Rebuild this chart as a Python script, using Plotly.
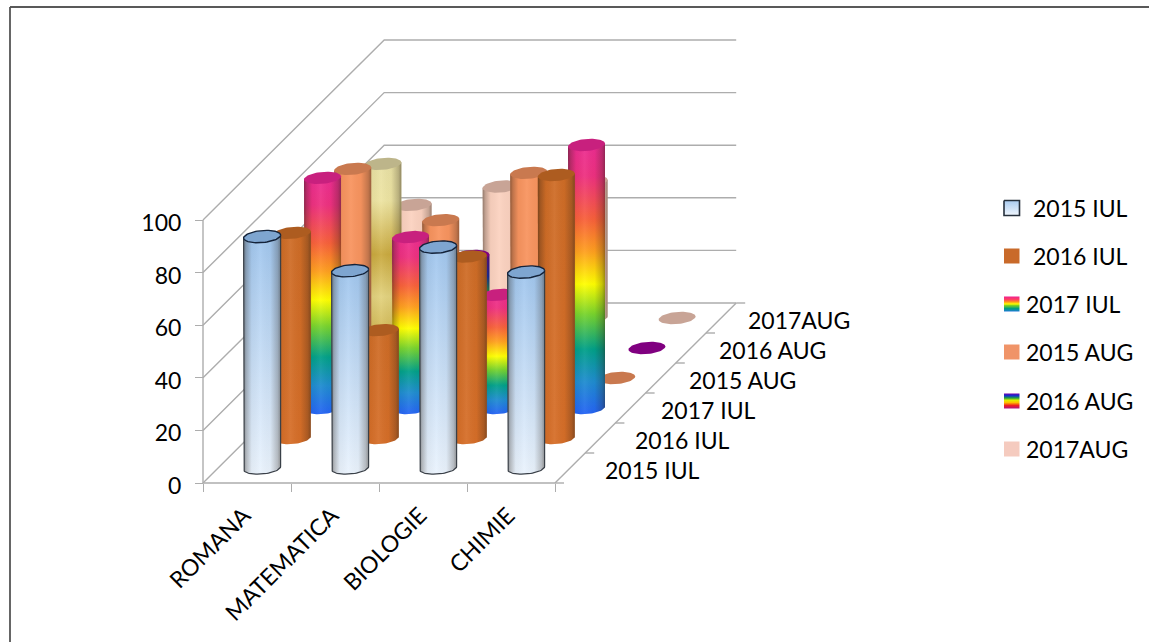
import numpy as np
import plotly.graph_objects as go

categories = ["ROMANA", "MATEMATICA", "BIOLOGIE", "CHIMIE"]
series_names = ["2015 IUL", "2016 IUL", "2017 IUL", "2015 AUG", "2016 AUG", "2017AUG"]
iul_2015 = [88, 75, 84, 74.5]
iul_2016 = [78, 41, 69, 100]
iul_2017 = [87.5, 65, 43, 100]
aug_2015 = [79.5, 60, 78, 0]
aug_2016 = [70, 35, 60, 0]
aug_2017 = [43, 50, 52, 0]
value_ticks = [0, 20, 40, 60, 80, 100]
series_values = [iul_2015, iul_2016, iul_2017, aug_2015, aug_2016, aug_2017]

W, H = 1149, 642
X0, Y0 = 203, 483      # pixel of the chart origin
PX_CAT, PX_VAL = 88.0, 2.63
DX, DY = 30.2, 30.0    # pixel shift per depth step
RX, RY = 18.5, 6.0
TILT = 1.5


def px(x, y):
    return (x - X0) / PX_CAT, (Y0 - y) / PX_VAL


def proj(cat, val, depth):
    """Oblique projection into axis units (cat, value)."""
    return cat + depth * DX / PX_CAT, val + depth * DY / PX_VAL


RAINBOW = [[0, "#2463F5"], [0.12, "#1E8CD0"], [0.24, "#00A088"], [0.37, "#78D42C"],
           [0.48, "#FFFF00"], [0.60, "#FFA01E"], [0.72, "#F8603A"], [0.88, "#EE3080"], [1, "#EC2C92"]]
RAINBOW2 = [[0, "#B01080"], [0.15, "#F01818"], [0.3, "#FF9020"], [0.45, "#FFFF00"],
            [0.6, "#30C040"], [0.78, "#1030D0"], [1, "#7000A8"]]
GOLD = [[0, "#C8A93C"], [0.3, "#E2D27E"], [0.52, "#C9A93E"], [0.8, "#EDE4A2"], [1, "#E8E0A4"]]
STYLE = [
    dict(body=[[0, "#EAF3FD"], [1, "#A0C6EE"]], cap="#7EA5D0", line="#14233A"),
    dict(body=[[0, "#D66E28"], [1, "#CE6C26"]], cap="#AD5C20", line=None),
    dict(body=RAINBOW, cap="#C8207E", line=None),
    dict(body=[[0, "#F8945F"], [1, "#F8945F"]], cap="#C9794F", line=None),
    dict(body=RAINBOW2, cap="#800080", line=None),
    dict(body=[[0, "#FBD2C0"], [1, "#FBD2C0"]], cap="#C8A496", line=None),
]
SHADE = [[0, "rgba(40,30,20,0.50)"], [0.07, "rgba(40,30,20,0.28)"], [0.22, "rgba(40,30,20,0.04)"],
         [0.45, "rgba(255,255,255,0.06)"], [0.72, "rgba(40,30,20,0.03)"], [0.92, "rgba(40,30,20,0.26)"],
         [1, "rgba(40,30,20,0.46)"]]

fig = go.Figure()
GRID = "#ADADAD"


def line(xs, ys, color=GRID, width=1.4):
    fig.add_trace(go.Scatter(x=xs, y=ys, mode="lines", line=dict(color=color, width=width),
                             hoverinfo="skip", showlegend=False, cliponaxis=False))


n_cat = len(categories)
n_dep = len(series_names)
# walls and floor
for v in value_ticks:
    bx, by = proj(0, v, n_dep)
    ex, ey = proj(n_cat, v, n_dep)
    line([0, bx, ex], [v, by, ey])
fx, fy = proj(n_cat, 0, n_dep)
line([n_cat, fx], [0, fy])
line([0, 0], [0, 100])
line([0, n_cat], [0, 0])
for d in range(n_dep + 1):
    a, b = proj(n_cat, 0, d)
    line([a, a + 9 / PX_CAT], [b, b])

rx, ry, ty = RX / PX_CAT, RY / PX_VAL, TILT / PX_VAL
t = np.linspace(0, 2 * np.pi, 73)
for d in range(n_dep - 1, -1, -1):
    st = STYLE[d]
    for c in range(n_cat):
        val = series_values[d][c]
        cx, base = proj(c + 0.5, 0, d + 0.5)
        _, top = proj(c + 0.5, val, d + 0.5)
        body_scale = st["body"]
        cap_col = st["cap"]
        if d == 4 and c == 0:
            body_scale, cap_col = GOLD, "#BDB58A"
        if val > 0:
            arc = np.linspace(np.pi, 2 * np.pi, 37)
            bx = np.concatenate([[cx - rx, cx - rx], cx + rx * np.cos(arc), [cx + rx, cx - rx]])
            by = np.concatenate([[top - ty, base - ty], base + ry * np.sin(arc) + ty * np.cos(arc),
                                 [top + ty, top - ty]])
            fig.add_trace(go.Scatter(x=bx, y=by, mode="lines", fill="toself",
                                     fillgradient=dict(type="vertical", colorscale=body_scale),
                                     line=dict(width=0), hoverinfo="skip", showlegend=False, cliponaxis=False))
            lc = "rgba(0,0,0,0)" if st["line"] is None else "#3A4048"
            fig.add_trace(go.Scatter(x=bx, y=by, mode="lines", fill="toself",
                                     fillgradient=dict(type="horizontal", colorscale=SHADE),
                                     line=dict(width=1.2 if st["line"] else 0, color=lc),
                                     hoverinfo="skip", showlegend=False, cliponaxis=False))
        fig.add_trace(go.Scatter(x=cx + rx * np.cos(t), y=top + ry * np.sin(t) + ty * np.cos(t),
                                 mode="lines", fill="toself", fillcolor=cap_col,
                                 line=dict(width=1.4 if st["line"] else 0,
                                           color=st["line"] or "rgba(0,0,0,0)"),
                                 hoverinfo="skip", showlegend=False, cliponaxis=False))

FONT = dict(family="Lato", size=23, color="#000000")
annotations = []
# depth axis labels
depth_shift = [33, 33, 28, 26, 26, 25]
for d, name in enumerate(series_names):
    a, b = proj(n_cat, 0, d + 0.5)
    annotations.append(dict(x=a, y=b, text=name, showarrow=False, xanchor="left", yanchor="middle",
                            xshift=depth_shift[d], yshift=-2, font=FONT))

# legend
LEG_TEXT_X = [1031, 1031, 1024, 1024, 1024, 1024]
LEG_Y = [208, 256, 304, 352, 401, 449]
LEG_SCALE = [[[0, "#F0F6FD"], [1, "#A9CBF0"]], [[0, "#C96A2A"], [1, "#C96A2A"]],
             [[0, "#1E78D8"], [.2, "#00A080"], [.4, "#80D020"], [.5, "#FFFF00"], [.65, "#FF9020"], [.8, "#FF4060"], [1, "#F02090"]],
             [[0, "#F09468"], [1, "#F09468"]],
             [[0, "#B01080"], [.2, "#F02020"], [.4, "#FFC000"], [.55, "#E0F000"], [.7, "#20A040"], [.85, "#1030D0"], [1, "#7000B0"]],
             [[0, "#F5CBBF"], [1, "#F5CBBF"]]]
for i, name in enumerate(series_names):
    x0, y0 = px(1004, LEG_Y[i] - 7.5)
    x1, y1 = px(1019.5, LEG_Y[i] + 7.5)
    fig.add_trace(go.Scatter(x=[x0, x1, x1, x0, x0], y=[y0, y0, y1, y1, y0], mode="lines", fill="toself",
                             fillgradient=dict(type="vertical", colorscale=LEG_SCALE[i]),
                             line=dict(width=1.6 if i == 0 else 0, color="#26303C"),
                             hoverinfo="skip", showlegend=False, cliponaxis=False))
    lx, ly = px(LEG_TEXT_X[i], LEG_Y[i])
    annotations.append(dict(x=lx, y=ly, text=name, showarrow=False, xanchor="left", yanchor="middle", font=FONT))

fig.update_layout(
    width=W, height=H, margin=dict(l=0, r=0, t=0, b=0),
    paper_bgcolor="white", plot_bgcolor="white", showlegend=False,
    annotations=annotations,
    shapes=[dict(type="line", xref="paper", yref="paper", x0=10 / W, x1=1, y0=1 - 7 / H, y1=1 - 7 / H,
                 line=dict(color="#222222", width=1.6), layer="below"),
            dict(type="line", xref="paper", yref="paper", x0=10 / W, x1=10 / W, y0=0, y1=1 - 7 / H,
                 line=dict(color="#555555", width=1.8), layer="below")],
    xaxis=dict(range=[-X0 / PX_CAT, (W - X0) / PX_CAT], domain=[0, 1], anchor="free",
               position=1 - Y0 / H, showgrid=False, zeroline=False, showline=False,
               tickmode="array", tickvals=[i + 0.5 for i in range(n_cat)], ticktext=categories,
               tickangle=-45, ticks="outside", ticklen=9, tickcolor="rgba(0,0,0,0)",
               ticklabelshift=-3,
               tickfont=FONT, layer="above traces",
               minor=dict(tickmode="array", tickvals=list(range(n_cat + 1)), ticks="outside",
                          ticklen=8, tickcolor=GRID, tickwidth=1.4)),
    yaxis=dict(range=[(Y0 - H) / PX_VAL, Y0 / PX_VAL], domain=[0, 1], anchor="free",
               position=X0 / W, showgrid=False, zeroline=False, showline=False,
               tickmode="array", tickvals=value_ticks, ticks="outside", ticklen=8,
               ticklabelstandoff=9, ticklabelshift=3, tickcolor=GRID, tickwidth=1.4, tickfont=FONT),
)
fig.write_html("out.html", config=dict(displayModeBar=False),
               post_script="document.body.style.margin='0';document.body.style.overflow='hidden';")
